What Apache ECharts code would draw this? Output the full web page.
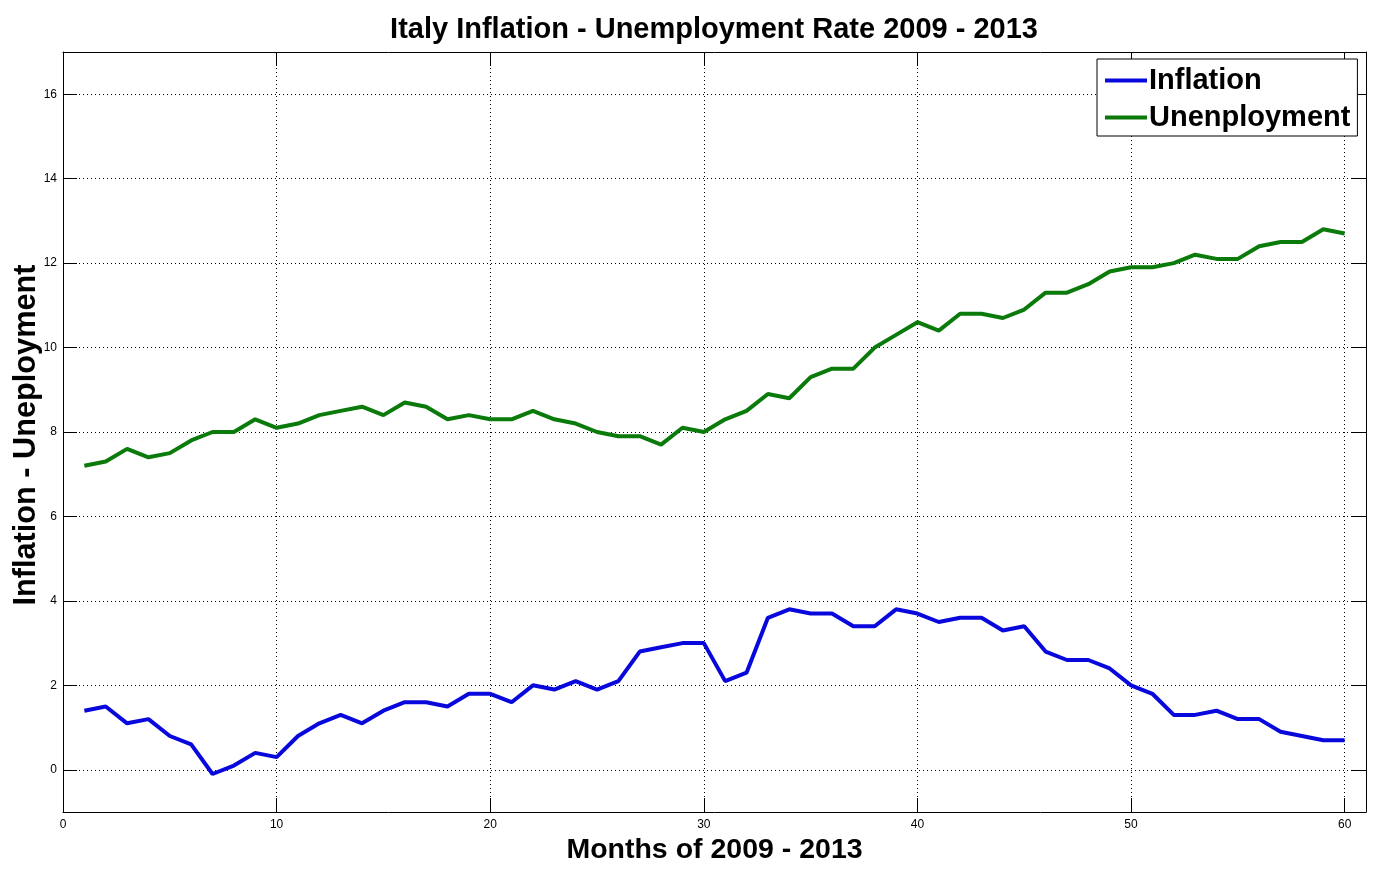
<!DOCTYPE html>
<html>
<head>
<meta charset="utf-8">
<script src="https://cdn.jsdelivr.net/npm/echarts@6/dist/echarts.min.js"></script>
<style>
html,body{margin:0;padding:0;background:#fff;}
#chart{width:1391px;height:872px;}
</style>
</head>
<body>
<div id="chart"></div>
<script>
const months = [];
for (let m = 1; m <= 60; m++) months.push(m);

const inflation = [
  1.4, 1.5, 1.1, 1.2, 0.8, 0.6, -0.1, 0.1, 0.4, 0.3,
  0.8, 1.1, 1.3, 1.1, 1.4, 1.6, 1.6, 1.5, 1.8, 1.8,
  1.6, 2.0, 1.9, 2.1, 1.9, 2.1, 2.8, 2.9, 3.0, 3.0,
  2.1, 2.3, 3.6, 3.8, 3.7, 3.7, 3.4, 3.4, 3.8, 3.7,
  3.5, 3.6, 3.6, 3.3, 3.4, 2.8, 2.6, 2.6, 2.4, 2.0,
  1.8, 1.3, 1.3, 1.4, 1.2, 1.2, 0.9, 0.8, 0.7, 0.7
];

const unemployment = [
  7.2, 7.3, 7.6, 7.4, 7.5, 7.8, 8.0, 8.0, 8.3, 8.1,
  8.2, 8.4, 8.5, 8.6, 8.4, 8.7, 8.6, 8.3, 8.4, 8.3,
  8.3, 8.5, 8.3, 8.2, 8.0, 7.9, 7.9, 7.7, 8.1, 8.0,
  8.3, 8.5, 8.9, 8.8, 9.3, 9.5, 9.5, 10.0, 10.3, 10.6,
  10.4, 10.8, 10.8, 10.7, 10.9, 11.3, 11.3, 11.5, 11.8, 11.9,
  11.9, 12.0, 12.2, 12.1, 12.1, 12.4, 12.5, 12.5, 12.8, 12.7
];

const xTicks = [0, 10, 20, 30, 40, 50, 60];
const yTicks = [0, 2, 4, 6, 8, 10, 12, 14, 16];

const titleText = 'Italy Inflation - Unemployment Rate 2009 - 2013';
const xName = 'Months of 2009 - 2013';
const yName = 'Inflation - Uneployment';
const seriesNames = ['Inflation', 'Unenployment'];

const FONT = 'Liberation Sans';
const chart = echarts.init(document.getElementById('chart'), null, {renderer: 'canvas'});

const gridDot = {show: true, lineStyle: {color: '#000', width: 1, type: [1, 3]}};

const option = {
  backgroundColor: '#fff',
  animation: false,
  title: {
    text: titleText,
    left: 714, top: 15, textAlign: 'center', padding: 0,
    textStyle: {fontFamily: FONT, fontSize: 29, fontWeight: 'bold', color: '#000'}
  },
  legend: {
    orient: 'vertical',
    left: 1097, top: 59,
    padding: [7, 7, 4, 8],
    borderColor: '#000', borderWidth: 1,
    backgroundColor: '#fff',
    itemWidth: 42, itemHeight: 4, itemGap: 8,
    icon: 'rect',
    textStyle: {fontFamily: FONT, fontSize: 29, fontWeight: 'bold', color: '#000', padding: [0, 0, 0, -3]},
    data: seriesNames
  },
  grid: {left: 63, top: 52, right: 25, bottom: 60, containLabel: false, outerBoundsMode: 'none'},
  xAxis: [{
    type: 'value', position: 'bottom', min: 0, max: 61,
    name: xName, nameLocation: 'middle', nameGap: 24, nameMoveOverlap: false,
    nameTextStyle: {fontFamily: FONT, fontSize: 28.5, fontWeight: 'bold', color: '#000'},
    axisLine: {show: true, onZero: false, lineStyle: {color: '#000', width: 1}},
    axisTick: {show: true, inside: true, length: 14, customValues: xTicks, lineStyle: {color: '#000'}},
    axisLabel: {show: true, margin: 7, customValues: xTicks, fontFamily: FONT, fontSize: 12, color: '#000'},
    splitLine: gridDot
  }, {
    type: 'value', position: 'top', min: 0, max: 61,
    axisLine: {show: true, onZero: false, lineStyle: {color: '#000', width: 1}},
    axisTick: {show: true, inside: true, length: 14, customValues: xTicks, lineStyle: {color: '#000'}},
    axisLabel: {show: false},
    splitLine: {show: false}
  }],
  yAxis: [{
    type: 'value', position: 'left', min: -1, max: 17,
    name: yName, nameLocation: 'middle', nameGap: 21, nameRotate: 90, nameMoveOverlap: false,
    nameTextStyle: {fontFamily: FONT, fontSize: 30.7, fontWeight: 'bold', color: '#000', padding: [0, 6, 0, 0]},
    axisLine: {show: true, onZero: false, lineStyle: {color: '#000', width: 1}},
    axisTick: {show: true, inside: true, length: 14, customValues: yTicks, lineStyle: {color: '#000'}},
    axisLabel: {show: true, margin: 6, customValues: yTicks, fontFamily: FONT, fontSize: 12, color: '#000'},
    splitLine: gridDot
  }, {
    type: 'value', position: 'right', min: -1, max: 17,
    axisLine: {show: true, onZero: false, lineStyle: {color: '#000', width: 1}},
    axisTick: {show: true, inside: true, length: 14, customValues: yTicks, lineStyle: {color: '#000'}},
    axisLabel: {show: false},
    splitLine: {show: false}
  }],
  series: [{
    name: seriesNames[0], type: 'line',
    data: months.map((m, i) => [m, inflation[i]]),
    showSymbol: false, symbol: 'none',
    lineStyle: {color: '#0808dc', width: 4},
    itemStyle: {color: '#0808dc'}
  }, {
    name: seriesNames[1], type: 'line',
    data: months.map((m, i) => [m, unemployment[i]]),
    showSymbol: false, symbol: 'none',
    lineStyle: {color: '#0a7a0a', width: 4},
    itemStyle: {color: '#0a7a0a'}
  }]
};
chart.setOption(option);
</script>
</body>
</html>
